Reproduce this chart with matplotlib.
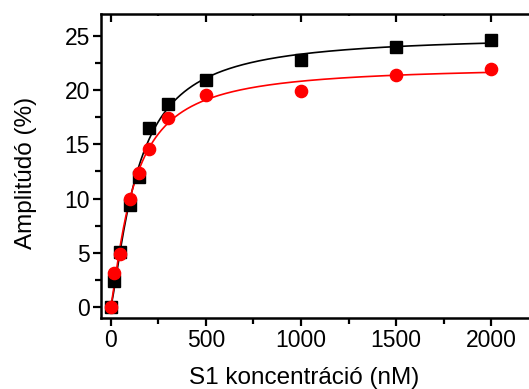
import numpy as np
import matplotlib
matplotlib.use("Agg")
import matplotlib.pyplot as plt
from matplotlib.ticker import MultipleLocator

plt.rcParams['font.family'] = ['Liberation Sans', 'DejaVu Sans']

conc = [0, 20, 50, 100, 150, 200, 300, 500, 1000, 1500, 2000]
black_vals = [0, 2.4, 5.1, 9.4, 12.0, 16.5, 18.7, 20.9, 22.8, 24.0, 24.6]
red_vals = [0, 3.1, 4.9, 9.95, 12.4, 14.6, 17.4, 19.5, 19.9, 21.4, 21.9]

def hill_fit(x, y):
    x = np.asarray(x, float); y = np.asarray(y, float)
    best = None
    for K in np.linspace(30, 400, 371):
        for n in np.linspace(0.8, 2.0, 61):
            f = x**n / (K**n + x**n)
            A = (f @ y) / (f @ f)
            err = np.sum((A * f - y) ** 2)
            if best is None or err < best[0]:
                best = (err, A, K, n)
    return best[1:]

fig = plt.figure(figsize=(5.29, 3.89), dpi=100)
ax = fig.add_axes([101/529, 71/389, 438/529, 304/389])

xs = np.linspace(0, 2000, 800)
series = [(black_vals, 'black', 's', 8.0), (red_vals, '#ff0000', 'o', 8.8)]
for vals, col, mk, ms in series:
    A, K, n = hill_fit(conc, vals)
    ax.plot(xs, A * xs**n / (K**n + xs**n), color=col, lw=1.2, zorder=2)
for vals, col, mk, ms in series:
    ax.plot(conc, vals, linestyle='none', marker=mk, color=col, markersize=ms, zorder=3)

ax.set_xlim(-50, 2250)
ax.set_ylim(-1, 27)
ax.xaxis.set_major_locator(MultipleLocator(500))
ax.xaxis.set_minor_locator(MultipleLocator(250))
ax.yaxis.set_major_locator(MultipleLocator(5))
ax.yaxis.set_minor_locator(MultipleLocator(2.5))
for s in ax.spines.values():
    s.set_linewidth(1.8)
ax.tick_params(which='both', direction='out', width=1.6, labelsize=16.5)
ax.tick_params(which='major', length=6, pad=2)
ax.tick_params(which='minor', length=4)
ax.tick_params(axis='x', which='major', top=True, labeltop=False)
ax.tick_params(axis='x', which='minor', top=True, labeltop=False)
for t in ax.xaxis.get_major_ticks():
    t.tick2line.set_marker(3)
for t in ax.xaxis.get_minor_ticks():
    t.tick2line.set_marker(3)
    t.tick2line.set_markersize(1.5)

ax.set_xlabel('S1 koncentráció (nM)', fontsize=17.5)
ax.set_ylabel('Amplitúdó (%)', fontsize=17.5)
ax.xaxis.label.set_va('center')
ax.yaxis.label.set_va('center')
ax.xaxis.set_label_coords((304 - 101) / 438, (318 - 378) / 304)
ax.yaxis.set_label_coords((26 - 101) / 438, (318 - 173) / 304)

fig.savefig('out.png', dpi=100)
